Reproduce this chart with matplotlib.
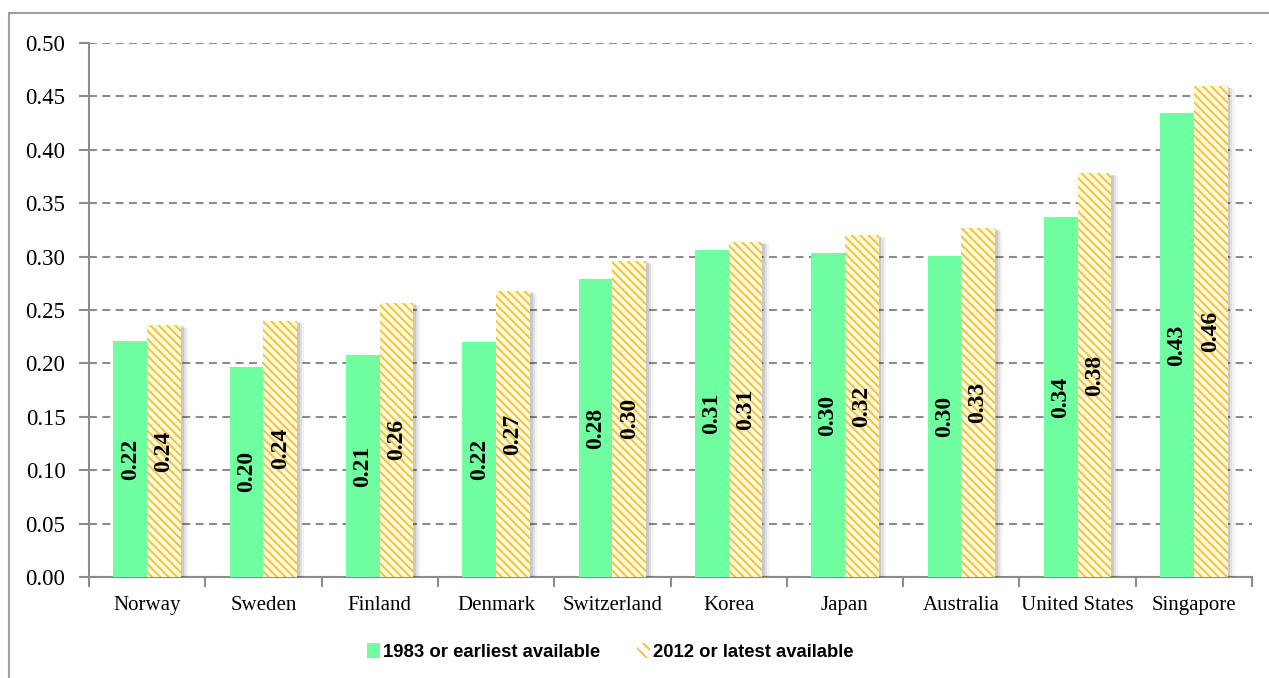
import matplotlib.pyplot as plt
import matplotlib.patheffects as pe
from matplotlib.patches import Patch, Rectangle
import numpy as np

countries = ['Norway', 'Sweden', 'Finland', 'Denmark', 'Switzerland',
             'Korea', 'Japan', 'Australia', 'United States', 'Singapore']
early = [0.221, 0.197, 0.208, 0.220, 0.279, 0.306, 0.303, 0.301, 0.337, 0.434]
late = [0.236, 0.240, 0.257, 0.268, 0.296, 0.314, 0.320, 0.327, 0.378, 0.460]
labels = ['1983 or earliest available', '2012 or latest available']

GREEN = '#70FFA0'
GOLD = '#F0C43A'
CREAM = '#FFF8DC'
GREY = '#8C8C8C'

plt.rcParams['hatch.linewidth'] = 1.4


class SoftShadow(pe.AbstractPathEffect):
    """Plain grey offset copy of a patch, without its hatch."""

    def __init__(self, offset, alpha):
        super().__init__(offset)
        self.alpha = alpha

    def draw_path(self, renderer, gc, tpath, affine, rgbFace):
        gc0 = renderer.new_gc()
        gc0.copy_properties(gc)
        gc0.set_hatch(None)
        gc0.set_linewidth(0)
        gc0.set_alpha(self.alpha)
        renderer.draw_path(gc0, tpath, affine + self._offset_transform(renderer), (0, 0, 0))
        gc0.restore()


W, H = 1269, 678
fig = plt.figure(figsize=(W / 100, H / 100), dpi=100)
ax = fig.add_axes([89 / W, (H - 577) / H, (1252 - 89) / W, (577 - 43) / H])

# chart border around the whole figure
fig.patches.append(Rectangle((9 / W, -0.05), 1.2, 1.05 - 13 / H, transform=fig.transFigure,
                             fill=False, edgecolor='#A0A0A0', linewidth=1.5))

shadow = [SoftShadow((5, -2), 0.05), SoftShadow((3.5, -1.5), 0.07),
          SoftShadow((2, -1), 0.10), pe.Normal()]

x = np.arange(len(countries))
bw = 0.29
b1 = ax.bar(x - bw / 2, early, bw, color=GREEN, linewidth=0, zorder=3)
b2 = ax.bar(x + bw / 2, late, bw, color=CREAM, edgecolor=GOLD, hatch='\\\\\\\\',
            linewidth=0, zorder=3)
for bars in (b1, b2):
    for b in bars:
        b.set_path_effects(shadow)

for xs, vals in ((x - bw / 2, early), (x + bw / 2, late)):
    for xi, v in zip(xs, vals):
        ax.text(xi, v / 2, f'{v:.2f}', rotation=90, ha='center', va='center',
                fontsize=17, fontweight='bold', family='Liberation Serif', zorder=4)

ax.set_xlim(-0.5, len(countries) - 0.5)
ax.set_ylim(0, 0.5)
yt = np.arange(0, 0.501, 0.05)
ax.set_yticks(yt)
ax.set_yticklabels([f'{v:.2f}' for v in yt], family='Liberation Serif', fontsize=16.5)
ax.set_xticks(x)
ax.set_xticklabels(countries, family='Liberation Serif', fontsize=15)
ax.set_xticks(np.arange(-0.5, len(countries)), minor=True)
ax.tick_params(axis='x', which='major', length=0, pad=14)
ax.tick_params(axis='x', which='minor', length=7, color=GREY, width=1.5)
ax.tick_params(axis='y', length=7, color=GREY, width=1.5, pad=10)

ax.grid(axis='y', color=GREY, linestyle=(0, (3.8, 2.6)), linewidth=1.5, zorder=0)
ax.set_axisbelow(True)
for s in ('top', 'right'):
    ax.spines[s].set_visible(False)
for s in ('left', 'bottom'):
    ax.spines[s].set_color(GREY)
    ax.spines[s].set_linewidth(1.5)

handles = [Patch(facecolor=GREEN, linewidth=0),
           Patch(facecolor='white', edgecolor=GOLD, hatch='\\\\\\', linewidth=0)]
fig.legend(handles, labels, loc='center', bbox_to_anchor=(0.481, 1 - 652 / H), ncol=2,
           frameon=False, handlelength=0.7, handleheight=0.85, handletextpad=0.15,
           columnspacing=2.0, prop={'family': 'Liberation Sans', 'weight': 'bold', 'size': 13.3})

fig.savefig('out.png', dpi=100)
